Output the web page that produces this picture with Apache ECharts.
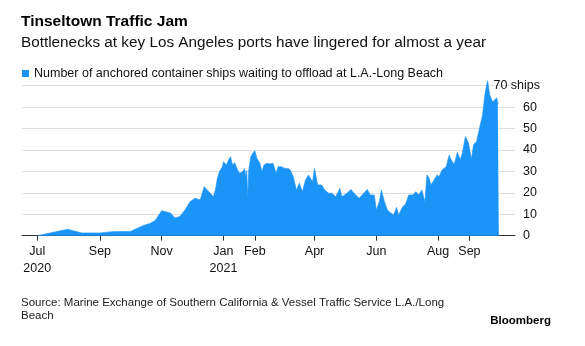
<!DOCTYPE html>
<html>
<head>
<meta charset="utf-8">
<script src="https://cdn.jsdelivr.net/npm/echarts@6/dist/echarts.min.js"></script>
<style>
html,body{margin:0;padding:0;background:#fff;}
#chart{width:585px;height:346px;}
</style>
</head>
<body>
<div id="chart"></div>
<script>
// ---- data ----
const tickDates = ['2020-07-01','2020-09-01','2020-11-01','2021-01-01','2021-02-01','2021-04-01','2021-06-01','2021-08-01','2021-09-01'];
const tickLabels = ['Jul\n2020','Sep','Nov','Jan\n2021','Feb','Apr','Jun','Aug','Sep'];
const yTickValues = [0,10,20,30,40,50,60,70];

const dates = [
'2020-07-01','2020-07-31','2020-08-14','2020-09-01','2020-09-13','2020-10-01','2020-10-14','2020-10-21','2020-10-26',
'2020-11-01','2020-11-07','2020-11-10','2020-11-14','2020-11-19','2020-11-24','2020-11-29','2020-12-04','2020-12-09',
'2020-12-13','2020-12-16','2020-12-19','2020-12-22','2020-12-24','2020-12-26','2020-12-28','2020-12-31','2021-01-01',
'2021-01-04','2021-01-06','2021-01-08','2021-01-10','2021-01-12','2021-01-15','2021-01-17','2021-01-20','2021-01-22',
'2021-01-23','2021-01-24','2021-01-25','2021-01-26','2021-01-28','2021-01-30','2021-02-01','2021-02-03','2021-02-06',
'2021-02-08','2021-02-10','2021-02-13','2021-02-16','2021-02-19','2021-02-22','2021-02-24','2021-02-27','2021-03-03',
'2021-03-06','2021-03-08','2021-03-11','2021-03-14','2021-03-17','2021-03-20','2021-03-23','2021-03-26','2021-03-30',
'2021-04-01','2021-04-04','2021-04-08','2021-04-11','2021-04-15','2021-04-18','2021-04-22','2021-04-26','2021-04-28',
'2021-05-03','2021-05-07','2021-05-10','2021-05-15','2021-05-18','2021-05-23','2021-05-26','2021-05-30','2021-06-01',
'2021-06-04','2021-06-06','2021-06-09','2021-06-12','2021-06-15','2021-06-18','2021-06-21','2021-06-23','2021-06-27',
'2021-06-30','2021-07-03','2021-07-07','2021-07-10','2021-07-13','2021-07-16','2021-07-19','2021-07-21','2021-07-23',
'2021-07-25','2021-07-28','2021-07-31','2021-08-02','2021-08-05','2021-08-09','2021-08-12','2021-08-14','2021-08-17',
'2021-08-20','2021-08-23','2021-08-25','2021-08-28','2021-08-31','2021-09-03','2021-09-05','2021-09-08','2021-09-11',
'2021-09-14','2021-09-16','2021-09-18','2021-09-19','2021-09-21','2021-09-24','2021-09-26','2021-09-28','2021-09-29',
'2021-09-30'
];
const ships = [
0,3.0,1.3,1.3,1.9,2.0,4.8,5.8,7.3,
11.7,10.9,10.5,8.3,9.0,12,15.9,17.5,16.7,
22.9,21.3,19.8,18.2,21.3,26.8,29.9,32.2,34.5,
33,35.3,36.9,33,34.1,30.7,29.1,29.9,31.4,
27.5,30.3,17.5,30.7,36.9,38.5,39.7,36.1,33.8,
29.9,33,33.8,33.5,33.8,29.1,32.2,32.2,31.4,
31.4,30.7,27.5,21.3,24.5,20.5,26,28.3,25.2,
31.4,23.7,23.7,21.3,19.8,19.8,18.2,22.1,18.2,
19.8,21.6,19.8,17.5,19,21.6,19,19,12,
15.9,21.3,15.9,12,10.7,9.7,13.2,9.7,13.5,
14.8,19,19,20.5,19,21.3,15.9,28.3,27,
23.7,26,28.3,27.5,30.7,32.2,37.7,35.3,33.3,
38.9,35.5,38.6,46.3,43.3,35.8,42.4,44,50.3,
56.5,65,70.5,72.3,65.8,62.4,63.5,64.3,61.9,
61.5
];

// ---- helpers ----
function toTs(s){ const p = s.split('-').map(Number); return Date.UTC(p[0], p[1]-1, p[2]); }
const tickTs = tickDates.map(toTs);
const labelByTs = {};
tickTs.forEach((t,i)=>{ labelByTs[t] = tickLabels[i]; });
const seriesData = dates.map((d,i)=>[toTs(d), ships[i]]);

const FONT = 'Liberation Sans, Arial, Helvetica, sans-serif';
const BLUE = '#1a94f7';

const chart = echarts.init(document.getElementById('chart'), null, {renderer:'canvas'});
chart.setOption({
  animation: false,
  backgroundColor: '#fff',
  textStyle: { fontFamily: FONT },
  title: [
    { text: 'Tinseltown Traffic Jam', left: 21, top: 14, padding: 0,
      textStyle: { fontFamily: FONT, fontSize: 15.5, fontWeight: 'bold', color: '#000' } },
    { text: 'Bottlenecks at key Los Angeles ports have lingered for almost a year', left: 21, top: 35, padding: 0,
      textStyle: { fontFamily: FONT, fontSize: 15.3, fontWeight: 'normal', color: '#111' } },
    { text: 'Source: Marine Exchange of Southern California & Vessel Traffic Service L.A./Long\nBeach', left: 21, top: 296, padding: 0,
      textStyle: { fontFamily: FONT, fontSize: 11.5, lineHeight: 13.5, fontWeight: 'normal', color: '#222' } },
    { text: 'Bloomberg', right: 34, top: 315, padding: 0,
      textStyle: { fontFamily: FONT, fontSize: 11.5, fontWeight: 'bold', color: '#000' } }
  ],
  legend: {
    left: 22, top: 67, padding: 0, icon: 'rect', itemWidth: 7, itemHeight: 7,
    textStyle: { fontFamily: FONT, fontSize: 12.5, color: '#111' },
    data: ['Number of anchored container ships waiting to offload at L.A.-Long Beach']
  },
  grid: { left: 22, right: 70, top: 85.7, bottom: 110.3, containLabel: false },
  xAxis: {
    type: 'value',
    min: toTs('2020-06-16'), max: toTs('2021-10-16'),
    axisLine: { show: true, lineStyle: { color: '#333', width: 1 } },
    axisTick: { show: true, length: 5, lineStyle: { color: '#333' }, customValues: tickTs },
    axisLabel: {
      customValues: tickTs,
      formatter: function (v) { return labelByTs[v] !== undefined ? labelByTs[v] : ''; },
      fontFamily: FONT, fontSize: 12.5, lineHeight: 16.5, color: '#111', margin: 8, hideOverlap: false
    },
    splitLine: { show: false }
  },
  yAxis: [
    {
      type: 'value', position: 'right', min: 0, max: 70, interval: 10,
      axisLine: { show: false }, axisTick: { show: false },
      splitLine: { show: true, lineStyle: { color: '#dedede', width: 1 } },
      axisLabel: {
        formatter: function (v) { return v === 70 ? '' : String(v); },
        fontFamily: FONT, fontSize: 12.5, color: '#111', margin: 8, align: 'left'
      }
    },
    {
      type: 'value', position: 'right', offset: 0, min: 0, max: 70, interval: 10,
      axisLine: { show: false }, axisTick: { show: false }, splitLine: { show: false },
      axisLabel: {
        formatter: function (v) { return v === 70 ? '70 ships' : ''; },
        fontFamily: FONT, fontSize: 12.5, color: '#111', margin: 25, align: 'right'
      }
    }
  ],
  series: [{
    name: 'Number of anchored container ships waiting to offload at L.A.-Long Beach',
    type: 'line',
    data: seriesData,
    yAxisIndex: 0,
    showSymbol: false,
    symbol: 'none',
    clip: false,
    itemStyle: { color: BLUE },
    lineStyle: { width: 0.6, color: BLUE },
    areaStyle: { color: BLUE, opacity: 1 },
    z: 1
  }]
});
</script>
</body>
</html>
